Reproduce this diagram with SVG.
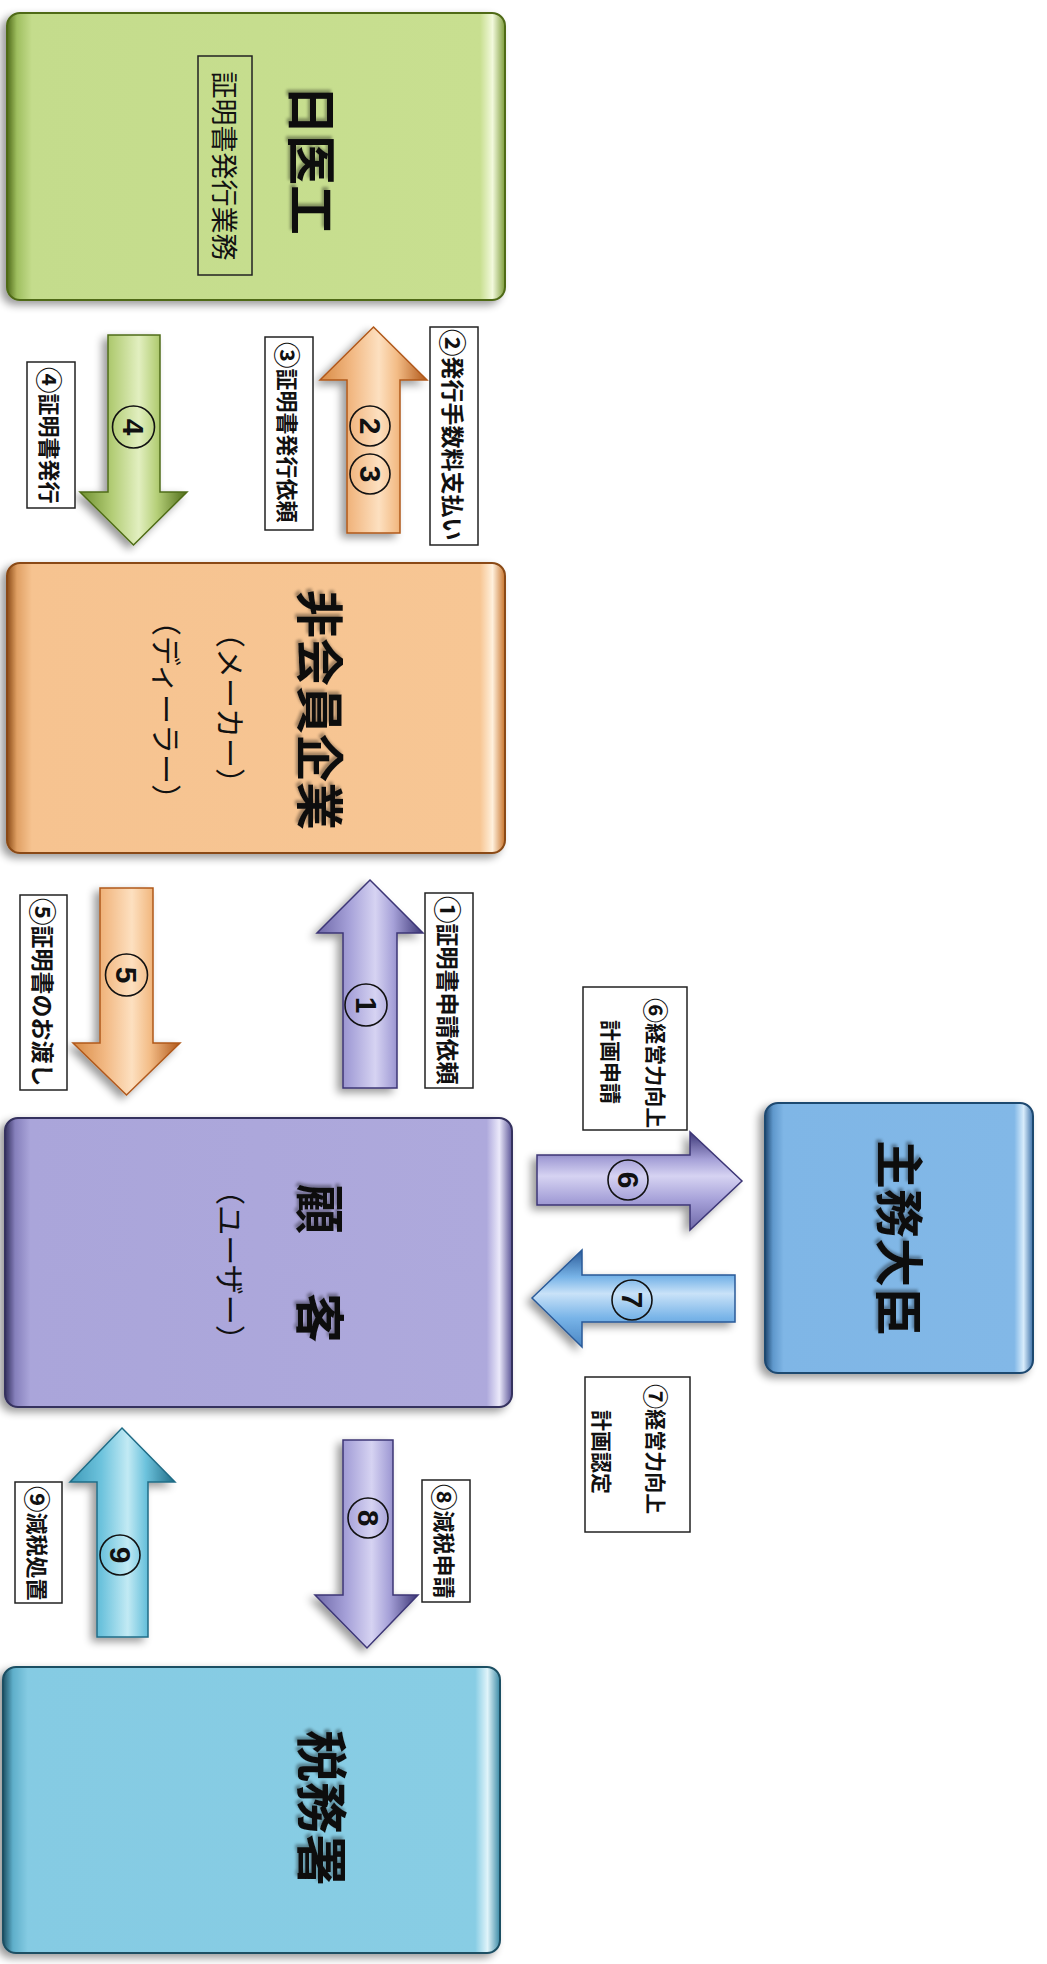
<svg xmlns="http://www.w3.org/2000/svg" width="1047" height="1964" viewBox="0 0 1047 1964">
<defs>
<style>
.ttl{font-family:"Noto Sans CJK JP","Noto Sans",sans-serif;font-weight:700;fill:#111;text-anchor:middle;dominant-baseline:central}
.sub{font-family:"Noto Sans CJK JP","Noto Sans",sans-serif;font-weight:400;fill:#111;text-anchor:middle;dominant-baseline:central}
.lbl{font-family:"Noto Sans CJK JP","Noto Sans",sans-serif;font-weight:700;fill:#111;font-size:22px;dominant-baseline:central}
.cd{font-size:1.2em}
.lbox{fill:#fff;stroke:#222;stroke-width:1.5}
.num{font-family:"Liberation Sans","DejaVu Sans",sans-serif;font-weight:700;font-size:30px;fill:#111;text-anchor:middle;dominant-baseline:central}
.circ{fill:none;stroke:#111;stroke-width:1.6}
</style>
<filter id="sh" x="-15%" y="-15%" width="130%" height="130%">
<feGaussianBlur in="SourceAlpha" stdDeviation="4"/>
<feOffset dx="-5" dy="4"/>
<feComponentTransfer><feFuncA type="linear" slope="0.4"/></feComponentTransfer>
<feMerge><feMergeNode/><feMergeNode in="SourceGraphic"/></feMerge>
</filter>
<filter id="tsh" x="-10%" y="-10%" width="120%" height="120%">
<feGaussianBlur in="SourceAlpha" stdDeviation="1.5"/>
<feOffset dx="-3" dy="2"/>
<feComponentTransfer><feFuncA type="linear" slope="0.35"/></feComponentTransfer>
<feMerge><feMergeNode/><feMergeNode in="SourceGraphic"/></feMerge>
</filter>
<linearGradient id="gG" x1="0" y1="0" x2="1" y2="0">
<stop offset="0" stop-color="#4f6a18"/><stop offset="0.02" stop-color="#9fbf60"/><stop offset="0.05" stop-color="#c4dc8c"/><stop offset="0.95" stop-color="#c8df90"/><stop offset="0.975" stop-color="#f2f9dc"/><stop offset="1" stop-color="#7d9c3a"/>
</linearGradient>
<linearGradient id="gO" x1="0" y1="0" x2="1" y2="0">
<stop offset="0" stop-color="#8a4a14"/><stop offset="0.02" stop-color="#e0a064"/><stop offset="0.05" stop-color="#f6c390"/><stop offset="0.95" stop-color="#f7c694"/><stop offset="0.975" stop-color="#fff0dc"/><stop offset="1" stop-color="#c8742c"/>
</linearGradient>
<linearGradient id="gP" x1="0" y1="0" x2="1" y2="0">
<stop offset="0" stop-color="#34305e"/><stop offset="0.02" stop-color="#8680bc"/><stop offset="0.05" stop-color="#aaa5da"/><stop offset="0.95" stop-color="#aea9dc"/><stop offset="0.975" stop-color="#ebe9fa"/><stop offset="1" stop-color="#5c5698"/>
</linearGradient>
<linearGradient id="gB" x1="0" y1="0" x2="1" y2="0">
<stop offset="0" stop-color="#1f4870"/><stop offset="0.03" stop-color="#5f98cc"/><stop offset="0.07" stop-color="#7fb6e6"/><stop offset="0.93" stop-color="#82b8e7"/><stop offset="0.965" stop-color="#d8ecfb"/><stop offset="1" stop-color="#3b70a8"/>
</linearGradient>
<linearGradient id="gC" x1="0" y1="0" x2="1" y2="0">
<stop offset="0" stop-color="#1d5064"/><stop offset="0.02" stop-color="#5fafca"/><stop offset="0.05" stop-color="#85cbe3"/><stop offset="0.95" stop-color="#88cde4"/><stop offset="0.975" stop-color="#e0f4fa"/><stop offset="1" stop-color="#3a8aa6"/>
</linearGradient>
<linearGradient id="aG" x1="0" y1="0" x2="1" y2="0">
<stop offset="0" stop-color="#6f9030"/><stop offset="0.3" stop-color="#b3cd76"/><stop offset="0.55" stop-color="#e2efc0"/><stop offset="0.72" stop-color="#b5cf78"/><stop offset="1" stop-color="#4f6c18"/>
</linearGradient>
<linearGradient id="aO" x1="0" y1="0" x2="1" y2="0">
<stop offset="0" stop-color="#d88a44"/><stop offset="0.3" stop-color="#f2b984"/><stop offset="0.55" stop-color="#fde0c0"/><stop offset="0.72" stop-color="#f3bc86"/><stop offset="1" stop-color="#b0581a"/>
</linearGradient>
<linearGradient id="aP" x1="0" y1="0" x2="1" y2="0">
<stop offset="0" stop-color="#6e68a8"/><stop offset="0.3" stop-color="#a5a0d8"/><stop offset="0.55" stop-color="#d6d3f2"/><stop offset="0.72" stop-color="#a6a1d8"/><stop offset="1" stop-color="#3c3676"/>
</linearGradient>
<linearGradient id="aPh" x1="0" y1="0" x2="0" y2="1">
<stop offset="0" stop-color="#3c3676"/><stop offset="0.28" stop-color="#a6a1d8"/><stop offset="0.45" stop-color="#d6d3f2"/><stop offset="0.7" stop-color="#a5a0d8"/><stop offset="1" stop-color="#6e68a8"/>
</linearGradient>
<linearGradient id="aBh" x1="0" y1="0" x2="0" y2="1">
<stop offset="0" stop-color="#2a5a98"/><stop offset="0.28" stop-color="#78b4e8"/><stop offset="0.45" stop-color="#c9e2f8"/><stop offset="0.7" stop-color="#78b4e8"/><stop offset="1" stop-color="#4a86c4"/>
</linearGradient>
<linearGradient id="aC" x1="0" y1="0" x2="1" y2="0">
<stop offset="0" stop-color="#3f9ab8"/><stop offset="0.3" stop-color="#6dc3dd"/><stop offset="0.55" stop-color="#c2eaf4"/><stop offset="0.72" stop-color="#6dc3dd"/><stop offset="1" stop-color="#1f6c86"/>
</linearGradient>
</defs>
<rect width="1047" height="1964" fill="#fff"/>

<g id="connectors">
<g id="arrow4">
<polygon points="108,335 160,335 160,492 187,492 133.5,545 80,492 108,492" fill="url(#aG)" stroke="#4f6c18" stroke-width="1.5" filter="url(#sh)"/>
<circle class="circ" cx="133.5" cy="427" r="21"/>
<text class="num" transform="translate(133.5,427) rotate(90)">4</text>
</g>
<g id="arrow23">
<polygon points="373.5,327 427,380 400,380 400,533 347,533 347,380 320,380" fill="url(#aO)" stroke="#b0581a" stroke-width="1.5" filter="url(#sh)"/>
<circle class="circ" cx="370" cy="426" r="20"/>
<text class="num" transform="translate(370,426) rotate(90)">2</text>
<circle class="circ" cx="370" cy="474" r="20"/>
<text class="num" transform="translate(370,474) rotate(90)">3</text>
</g>
<g id="arrow5">
<polygon points="100,888 153,888 153,1043 180,1043 126.5,1095 73,1043 100,1043" fill="url(#aO)" stroke="#b0581a" stroke-width="1.5" filter="url(#sh)"/>
<circle class="circ" cx="126.5" cy="975" r="21"/>
<text class="num" transform="translate(126.5,975) rotate(90)">5</text>
</g>
<g id="arrow1">
<polygon points="370,880 423,933 397,933 397,1088 343,1088 343,933 317,933" fill="url(#aP)" stroke="#3c3676" stroke-width="1.5" filter="url(#sh)"/>
<circle class="circ" cx="366" cy="1005" r="21"/>
<text class="num" transform="translate(366,1005) rotate(90)">1</text>
</g>
<g id="arrow6">
<polygon points="537,1155 690,1155 690,1132 742,1181 690,1230 690,1205 537,1205" fill="url(#aPh)" stroke="#3c3676" stroke-width="1.5" filter="url(#sh)"/>
<circle class="circ" cx="628" cy="1180" r="20"/>
<text class="num" transform="translate(628,1180) rotate(90)">6</text>
</g>
<g id="arrow7">
<polygon points="532,1298 582,1250 582,1275 735,1275 735,1322 582,1322 582,1347" fill="url(#aBh)" stroke="#2a5a98" stroke-width="1.5" filter="url(#sh)"/>
<circle class="circ" cx="632" cy="1300" r="20"/>
<text class="num" transform="translate(632,1300) rotate(90)">7</text>
</g>
<g id="arrow8">
<polygon points="343,1440 393,1440 393,1595 418,1595 367,1648 315,1595 343,1595" fill="url(#aP)" stroke="#3c3676" stroke-width="1.5" filter="url(#sh)"/>
<circle class="circ" cx="368" cy="1518" r="20"/>
<text class="num" transform="translate(368,1518) rotate(90)">8</text>
</g>
<g id="arrow9">
<polygon points="122,1428 175,1482 148,1482 148,1637 97,1637 97,1482 70,1482" fill="url(#aC)" stroke="#1f6c86" stroke-width="1.5" filter="url(#sh)"/>
<circle class="circ" cx="120" cy="1555" r="20"/>
<text class="num" transform="translate(120,1555) rotate(90)">9</text>
</g>
</g>

<g id="labels">
<g id="label4"><rect class="lbox" x="27" y="362" width="48" height="146"/>
<text class="lbl" transform="translate(51,367) rotate(90)"><tspan class="cd">④</tspan>証明書発行</text></g>
<g id="label3"><rect class="lbox" x="265" y="337" width="48" height="193"/>
<text class="lbl" transform="translate(289,342) rotate(90)"><tspan class="cd">③</tspan>証明書発行依頼</text></g>
<g id="label2"><rect class="lbox" x="430" y="327" width="48" height="218"/>
<text class="lbl" style="font-size:23px" transform="translate(454,329) rotate(90)"><tspan class="cd">②</tspan>発行手数料支払い</text></g>
<g id="label5"><rect class="lbox" x="20" y="895" width="47" height="195"/>
<text class="lbl" style="font-size:23px" transform="translate(43.5,898) rotate(90)"><tspan class="cd">⑤</tspan>証明書のお渡し</text></g>
<g id="label1"><rect class="lbox" x="425" y="893" width="48" height="195"/>
<text class="lbl" style="font-size:23px" transform="translate(449,896) rotate(90)"><tspan class="cd">①</tspan>証明書申請依頼</text></g>
<g id="label8"><rect class="lbox" x="422" y="1480" width="48" height="122"/>
<text class="lbl" transform="translate(446,1484) rotate(90)"><tspan class="cd">⑧</tspan>減税申請</text></g>
<g id="label9"><rect class="lbox" x="15" y="1482" width="47" height="121"/>
<text class="lbl" transform="translate(38.5,1486) rotate(90)"><tspan class="cd">⑨</tspan>減税処置</text></g>
<g id="label6"><rect class="lbox" x="583" y="987" width="104" height="143"/>
<text class="lbl" style="font-size:21px" transform="translate(657,998) rotate(90)"><tspan class="cd">⑥</tspan>経営力向上</text>
<text class="lbl" style="font-size:21px" transform="translate(612,1020) rotate(90)">計画申請</text></g>
<g id="label7"><rect class="lbox" x="585" y="1377" width="105" height="155"/>
<text class="lbl" style="font-size:21px" transform="translate(657,1384) rotate(90)"><tspan class="cd">⑦</tspan>経営力向上</text>
<text class="lbl" style="font-size:21px" transform="translate(603,1410) rotate(90)">計画認定</text></g>
</g>

<g id="node-nichiikou">
<rect x="7" y="13" width="498" height="287" rx="13" fill="url(#gG)" stroke="#4f6a18" stroke-width="2" filter="url(#sh)"/>
<text class="ttl" style="font-size:50px" filter="url(#tsh)" transform="translate(315,160) rotate(90)">日医工</text>
<rect x="198" y="56" width="54" height="219" fill="none" stroke="#222" stroke-width="1.5"/>
<text class="sub" style="font-size:27px" transform="translate(225,166) rotate(90)">証明書発行業務</text>
</g>

<g id="node-hikaiin">
<rect x="7" y="563" width="498" height="290" rx="13" fill="url(#gO)" stroke="#8a4a14" stroke-width="2" filter="url(#sh)"/>
<text class="ttl" style="font-size:48px" filter="url(#tsh)" transform="translate(323,710) rotate(90)">非会員企業</text>
<text class="sub" style="font-size:30px" transform="translate(232,708) rotate(90)">（メーカー）</text>
<text class="sub" style="font-size:30px" transform="translate(168,710) rotate(90)">（ディーラー）</text>
</g>

<g id="node-kokyaku">
<rect x="5" y="1118" width="507" height="289" rx="13" fill="url(#gP)" stroke="#34305e" stroke-width="2" filter="url(#sh)"/>
<text class="ttl" style="font-size:50px" filter="url(#tsh)" transform="translate(323,1209) rotate(90)">顧</text>
<text class="ttl" style="font-size:50px" filter="url(#tsh)" transform="translate(323,1318) rotate(90)">客</text>
<text class="sub" style="font-size:30px" transform="translate(232,1265) rotate(90)">（ユーザー）</text>
</g>

<g id="node-shumudaijin">
<rect x="765" y="1103" width="268" height="270" rx="13" fill="url(#gB)" stroke="#1f4870" stroke-width="2" filter="url(#sh)"/>
<text class="ttl" style="font-size:49px" filter="url(#tsh)" transform="translate(903,1238) rotate(90)">主務大臣</text>
</g>

<g id="node-zeimusho">
<rect x="3" y="1667" width="497" height="286" rx="13" fill="url(#gC)" stroke="#1d5064" stroke-width="2" filter="url(#sh)"/>
<text class="ttl" style="font-size:52px" filter="url(#tsh)" transform="translate(325,1808) rotate(90)">税務署</text>
</g>
</svg>
